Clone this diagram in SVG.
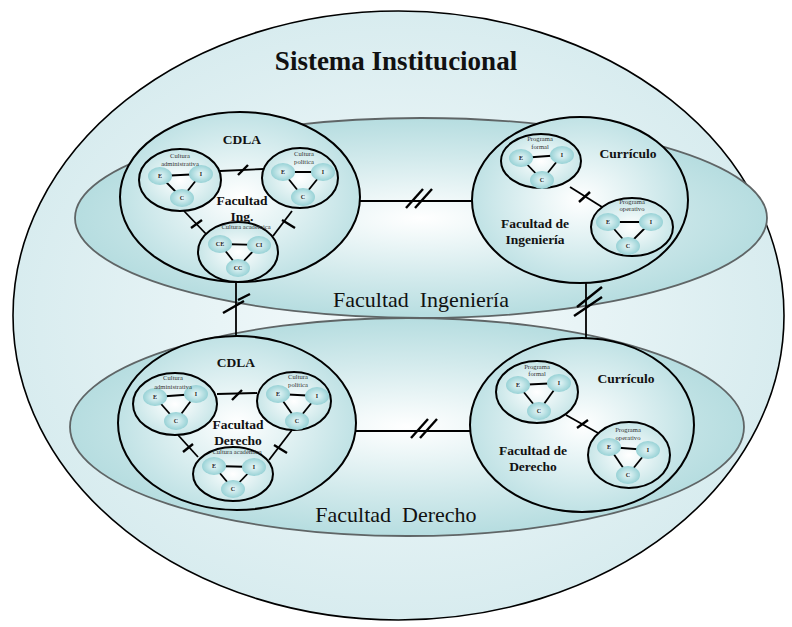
<svg xmlns="http://www.w3.org/2000/svg" width="792" height="627" viewBox="0 0 792 627">
<defs>
<radialGradient id="gOuter" cx="0.5" cy="0.5" r="0.5"><stop offset="0" stop-color="#f6fbfc"/><stop offset="1" stop-color="#d8ecef"/></radialGradient>
<radialGradient id="gMid" cx="0.5" cy="0.5" r="0.5"><stop offset="0" stop-color="#ffffff"/><stop offset="0.6" stop-color="#d2eaec"/><stop offset="1" stop-color="#b6dde0"/></radialGradient>
<radialGradient id="gBig" cx="0.5" cy="0.5" r="0.5"><stop offset="0" stop-color="#ffffff"/><stop offset="1" stop-color="#c0e2e5"/></radialGradient>
<radialGradient id="gSub" cx="0.5" cy="0.5" r="0.5"><stop offset="0" stop-color="#ffffff"/><stop offset="1" stop-color="#c8e6e8"/></radialGradient>
<radialGradient id="gNode" cx="0.5" cy="0.5" r="0.5"><stop offset="0" stop-color="#eaf7f8"/><stop offset="1" stop-color="#98d2d6"/></radialGradient>
<style>
.outer{fill:url(#gOuter);stroke:#000;stroke-width:1.6}
.mid{fill:url(#gMid);stroke:#5f6566;stroke-width:1.8}
.big{fill:url(#gBig);stroke:#000;stroke-width:2}
.sub{fill:url(#gSub);stroke:#000;stroke-width:2}
.nd{fill:url(#gNode);stroke:none}
.ln{stroke:#000;stroke-width:1.8;fill:none}
.tk{stroke:#000;stroke-width:2.4;fill:none}
.nt{font-family:"Liberation Serif",serif;font-size:6px;font-weight:bold;fill:#222;text-anchor:middle}
.lb{font-family:"Liberation Serif",serif;font-size:6.6px;fill:#333;text-anchor:middle}
.bd{font-family:"Liberation Serif",serif;font-size:13.5px;font-weight:bold;fill:#111;text-anchor:middle}
.fac{font-family:"Liberation Serif",serif;font-size:22px;fill:#111;text-anchor:middle;white-space:pre}
.title{font-family:"Liberation Serif",serif;font-size:27px;font-weight:bold;fill:#111;text-anchor:middle}
</style>
</defs>

<g id="sistema">
<ellipse class="outer" cx="398.5" cy="315.5" rx="385.5" ry="304.5"/>
<text class="title" x="396" y="70">Sistema Institucional</text>
</g>

<g id="fac-ingenieria">
<ellipse class="mid" cx="421" cy="218" rx="346" ry="100"/>
<text class="fac" x="421" y="307" xml:space="preserve">Facultad  Ingeniería</text>
</g>

<g id="fac-derecho">
<ellipse class="mid" cx="407" cy="427" rx="337" ry="109"/>
<text class="fac" x="396" y="522" xml:space="preserve">Facultad  Derecho</text>
</g>

<g id="connectors">
<line class="ln" x1="360" y1="201" x2="472" y2="201"/>
<line class="tk" x1="406" y1="208" x2="423" y2="189"/>
<line class="tk" x1="415" y1="208" x2="432" y2="189"/>
<line class="ln" x1="356" y1="431" x2="470" y2="431"/>
<line class="tk" x1="411" y1="438" x2="428" y2="419"/>
<line class="tk" x1="420" y1="438" x2="437" y2="419"/>
<line class="ln" x1="236" y1="282" x2="236" y2="336"/>
<line class="tk" x1="223" y1="313" x2="244" y2="301"/>
<line class="tk" x1="238" y1="300" x2="250" y2="294"/>
<line class="ln" x1="586" y1="283" x2="586" y2="338"/>
<line class="tk" x1="577" y1="307" x2="602" y2="287"/>
<line class="tk" x1="574" y1="316" x2="602" y2="297"/>
</g>

<g id="cdla-ing">
<ellipse class="big" cx="240" cy="197" rx="120" ry="85"/>
<text class="bd" x="242" y="144">CDLA</text>
<text class="bd" x="242" y="205" font-size="15">Facultad</text>
<text class="bd" x="242" y="221" font-size="15">Ing.</text>
<line class="ln" x1="220" y1="171" x2="264" y2="169"/>
<line class="tk" x1="238" y1="175" x2="248" y2="165"/>
<line class="ln" x1="184" y1="211" x2="207" y2="235"/>
<line class="tk" x1="191" y1="228" x2="202" y2="220"/>
<line class="ln" x1="292" y1="211" x2="273" y2="236"/>
<line class="tk" x1="282" y1="220" x2="295" y2="228"/>
</g>

<g id="ing-cultura-admin">
<ellipse class="sub" cx="180" cy="180" rx="41" ry="31"/>
<line class="ln" x1="160" y1="176" x2="201" y2="174"/>
<line class="ln" x1="160" y1="176" x2="182" y2="198"/>
<line class="ln" x1="201" y1="174" x2="182" y2="198"/>
<ellipse class="nd" cx="160" cy="176" rx="12" ry="9"/>
<ellipse class="nd" cx="201" cy="174" rx="12" ry="9"/>
<ellipse class="nd" cx="182" cy="198" rx="12" ry="9"/>
<text class="nt" x="160" y="178">E</text><text class="nt" x="201" y="176">I</text><text class="nt" x="182" y="200">C</text>
<text class="lb" x="180" y="158">Cultura</text>
<text class="lb" x="180" y="166">administrativa</text>
</g>

<g id="ing-cultura-politica">
<ellipse class="sub" cx="300" cy="178" rx="38" ry="30"/>
<line class="ln" x1="283" y1="172" x2="323" y2="172"/>
<line class="ln" x1="283" y1="172" x2="303" y2="197"/>
<line class="ln" x1="323" y1="172" x2="303" y2="197"/>
<ellipse class="nd" cx="283" cy="172" rx="12" ry="9"/>
<ellipse class="nd" cx="323" cy="172" rx="12" ry="9"/>
<ellipse class="nd" cx="303" cy="197" rx="12" ry="9"/>
<text class="nt" x="283" y="174">E</text><text class="nt" x="323" y="174">I</text><text class="nt" x="303" y="199">C</text>
<text class="lb" x="304" y="156">Cultura</text>
<text class="lb" x="304" y="164">política</text>
</g>

<g id="ing-cultura-academica">
<ellipse class="sub" cx="238" cy="252" rx="40" ry="30"/>
<line class="ln" x1="220" y1="244" x2="259" y2="245"/>
<line class="ln" x1="220" y1="244" x2="238" y2="267"/>
<line class="ln" x1="259" y1="245" x2="238" y2="267"/>
<ellipse class="nd" cx="220" cy="244" rx="12" ry="9"/>
<ellipse class="nd" cx="259" cy="245" rx="12" ry="9"/>
<ellipse class="nd" cx="238" cy="268" rx="12" ry="9"/>
<text class="nt" x="220" y="246">CE</text><text class="nt" x="259" y="247">CI</text><text class="nt" x="238" y="270">CC</text>
<text class="lb" x="246" y="229">Cultura académica</text>
</g>

<g id="curriculo-ing">
<ellipse class="big" cx="580" cy="200" rx="108" ry="83"/>
<text class="bd" x="628" y="158">Currículo</text>
<text class="bd" x="535" y="228">Facultad de</text>
<text class="bd" x="535" y="244">Ingeniería</text>
<line class="ln" x1="570" y1="187" x2="602" y2="207"/>
<line class="tk" x1="579" y1="202" x2="590" y2="192"/>
</g>

<g id="ing-programa-formal">
<ellipse class="sub" cx="541" cy="161" rx="40" ry="27"/>
<line class="ln" x1="521" y1="158" x2="562" y2="155"/>
<line class="ln" x1="521" y1="158" x2="542" y2="180"/>
<line class="ln" x1="562" y1="155" x2="542" y2="180"/>
<ellipse class="nd" cx="521" cy="158" rx="12" ry="9"/>
<ellipse class="nd" cx="562" cy="155" rx="12" ry="9"/>
<ellipse class="nd" cx="542" cy="180" rx="12" ry="9"/>
<text class="nt" x="521" y="160">E</text><text class="nt" x="562" y="157">I</text><text class="nt" x="542" y="182">C</text>
<text class="lb" x="540" y="141">Programa</text>
<text class="lb" x="540" y="149">formal</text>
</g>

<g id="ing-programa-operativo">
<ellipse class="sub" cx="632" cy="227" rx="41" ry="29"/>
<line class="ln" x1="608" y1="222" x2="651" y2="222"/>
<line class="ln" x1="608" y1="222" x2="628" y2="245"/>
<line class="ln" x1="651" y1="222" x2="628" y2="245"/>
<ellipse class="nd" cx="608" cy="222" rx="12" ry="9"/>
<ellipse class="nd" cx="651" cy="222" rx="12" ry="9"/>
<ellipse class="nd" cx="628" cy="246" rx="12" ry="9"/>
<text class="nt" x="608" y="224">E</text><text class="nt" x="651" y="224">I</text><text class="nt" x="628" y="248">C</text>
<text class="lb" x="632" y="204">Programa</text>
<text class="lb" x="632" y="211">operativo</text>
</g>

<g id="cdla-der">
<ellipse class="big" cx="237" cy="423" rx="119" ry="87"/>
<text class="bd" x="236" y="367">CDLA</text>
<text class="bd" x="238" y="429" font-size="15">Facultad</text>
<text class="bd" x="238" y="445" font-size="15">Derecho</text>
<line class="ln" x1="217" y1="394" x2="257" y2="393"/>
<line class="tk" x1="232" y1="400" x2="242" y2="390"/>
<line class="ln" x1="178" y1="435" x2="198" y2="457"/>
<line class="tk" x1="183" y1="452" x2="193" y2="444"/>
<line class="ln" x1="292" y1="430" x2="269" y2="460"/>
<line class="tk" x1="274" y1="445" x2="287" y2="453"/>
</g>

<g id="der-cultura-admin">
<ellipse class="sub" cx="175" cy="404" rx="42" ry="31"/>
<line class="ln" x1="155" y1="397" x2="196" y2="394"/>
<line class="ln" x1="155" y1="397" x2="176" y2="421"/>
<line class="ln" x1="196" y1="394" x2="176" y2="421"/>
<ellipse class="nd" cx="155" cy="397" rx="12" ry="9"/>
<ellipse class="nd" cx="196" cy="394" rx="12" ry="9"/>
<ellipse class="nd" cx="176" cy="421" rx="12" ry="9"/>
<text class="nt" x="155" y="399">E</text><text class="nt" x="196" y="396">I</text><text class="nt" x="176" y="423">C</text>
<text class="lb" x="173" y="380">Cultura</text>
<text class="lb" x="173" y="389">administrativa</text>
</g>

<g id="der-cultura-politica">
<ellipse class="sub" cx="294" cy="401" rx="37" ry="29"/>
<line class="ln" x1="278" y1="394" x2="317" y2="396"/>
<line class="ln" x1="278" y1="394" x2="297" y2="421"/>
<line class="ln" x1="317" y1="396" x2="297" y2="421"/>
<ellipse class="nd" cx="278" cy="394" rx="12" ry="9"/>
<ellipse class="nd" cx="317" cy="396" rx="12" ry="9"/>
<ellipse class="nd" cx="297" cy="421" rx="12" ry="9"/>
<text class="nt" x="278" y="396">E</text><text class="nt" x="317" y="398">I</text><text class="nt" x="297" y="423">C</text>
<text class="lb" x="298" y="379">Cultura</text>
<text class="lb" x="298" y="387">política</text>
</g>

<g id="der-cultura-academica">
<ellipse class="sub" cx="233" cy="474" rx="40" ry="27"/>
<line class="ln" x1="214" y1="466" x2="254" y2="467"/>
<line class="ln" x1="214" y1="466" x2="233" y2="489"/>
<line class="ln" x1="254" y1="467" x2="233" y2="489"/>
<ellipse class="nd" cx="214" cy="466" rx="12" ry="9"/>
<ellipse class="nd" cx="254" cy="467" rx="12" ry="9"/>
<ellipse class="nd" cx="233" cy="489" rx="12" ry="9"/>
<text class="nt" x="214" y="468">E</text><text class="nt" x="254" y="469">I</text><text class="nt" x="233" y="491">C</text>
<text class="lb" x="237" y="454">Cultura académica</text>
</g>

<g id="curriculo-der">
<ellipse class="big" cx="582" cy="425" rx="112" ry="87"/>
<text class="bd" x="626" y="383">Currículo</text>
<text class="bd" x="533" y="455">Facultad de</text>
<text class="bd" x="533" y="471">Derecho</text>
<line class="ln" x1="566" y1="415" x2="598" y2="433"/>
<line class="tk" x1="577" y1="428" x2="588" y2="420"/>
</g>

<g id="der-programa-formal">
<ellipse class="sub" cx="537" cy="392" rx="41" ry="31"/>
<line class="ln" x1="518" y1="385" x2="559" y2="383"/>
<line class="ln" x1="518" y1="385" x2="539" y2="411"/>
<line class="ln" x1="559" y1="383" x2="539" y2="411"/>
<ellipse class="nd" cx="518" cy="385" rx="12" ry="9"/>
<ellipse class="nd" cx="559" cy="383" rx="12" ry="9"/>
<ellipse class="nd" cx="539" cy="411" rx="12" ry="9"/>
<text class="nt" x="518" y="387">E</text><text class="nt" x="559" y="385">I</text><text class="nt" x="539" y="413">C</text>
<text class="lb" x="537" y="369">Programa</text>
<text class="lb" x="537" y="376">formal</text>
</g>

<g id="der-programa-operativo">
<ellipse class="sub" cx="629" cy="455" rx="41" ry="33"/>
<line class="ln" x1="609" y1="447" x2="648" y2="450"/>
<line class="ln" x1="609" y1="447" x2="628" y2="475"/>
<line class="ln" x1="648" y1="450" x2="628" y2="475"/>
<ellipse class="nd" cx="609" cy="447" rx="12" ry="9"/>
<ellipse class="nd" cx="648" cy="450" rx="12" ry="9"/>
<ellipse class="nd" cx="628" cy="475" rx="12" ry="9"/>
<text class="nt" x="609" y="449">E</text><text class="nt" x="648" y="452">I</text><text class="nt" x="628" y="477">C</text>
<text class="lb" x="628" y="432">Programa</text>
<text class="lb" x="628" y="440">operativo</text>
</g>
</svg>
